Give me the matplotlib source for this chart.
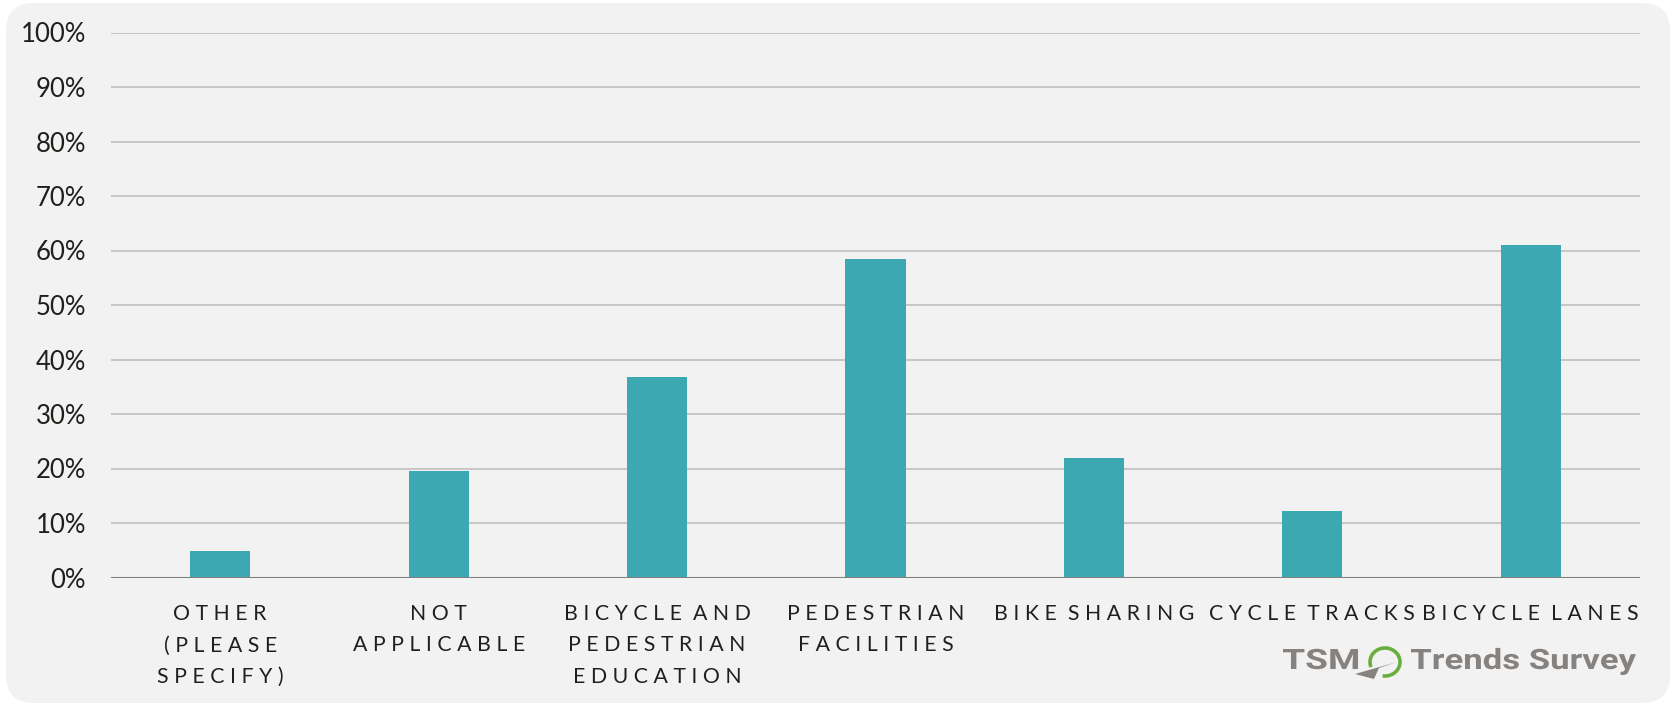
import matplotlib.pyplot as plt
from matplotlib.patches import FancyBboxPatch, Arc, Polygon, PathPatch
from matplotlib.textpath import TextPath
from matplotlib.font_manager import FontProperties
from matplotlib.transforms import Affine2D
from matplotlib.ticker import PercentFormatter

categories = ["OTHER\n(PLEASE\nSPECIFY)", "NOT\nAPPLICABLE", "BICYCLE AND\nPEDESTRIAN\nEDUCATION",
              "PEDESTRIAN\nFACILITIES", "BIKE SHARING", "CYCLE TRACKS", "BICYCLE LANES"]
shares = [4.9, 19.5, 36.7, 58.4, 21.9, 12.2, 61.0]
y_ticks = [0, 10, 20, 30, 40, 50, 60, 70, 80, 90, 100]

BAR_COLOR = "#3ca8b2"
TEXT_COLOR = "#1f1f1c"
LOGO_GRAY = "#86827f"
LOGO_GREEN = "#6aaf3d"

W, H = 1677, 706


# fake letter spacing: spaces between letters, a wider gap between words
def spaced(label):
    out = []
    for line in label.split("\n"):
        out.append("  ".join(" ".join(word) for word in line.split(" ")))
    return "\n".join(out)


# bold text squeezed into a given pixel box (x0..x1, baseline, cap height)
def logo_text(axis, s, x0, x1, baseline, cap):
    fp = FontProperties(family="Roboto", weight="bold")
    ref = TextPath((0, 0), "T", size=100, prop=fp).get_extents()
    size = 100 * cap / ref.height
    path = TextPath((0, 0), s, size=size, prop=fp)
    ext = path.get_extents()
    sx = (x1 - x0) / ext.width
    tr = Affine2D().translate(-ext.x0, 0).scale(sx, -1).translate(x0, baseline)
    axis.add_patch(PathPatch(tr.transform_path(path), facecolor=LOGO_GRAY, edgecolor="none"))


fig = plt.figure(figsize=(W / 100, H / 100), dpi=100)
fig.patch.set_facecolor("white")

# pixel-space layer for the panel background and the logo
bg = fig.add_axes([0, 0, 1, 1], zorder=0)
bg.set_xlim(0, W)
bg.set_ylim(H, 0)
bg.axis("off")
bg.add_patch(FancyBboxPatch((6, 3), 1664, 700, boxstyle="round,pad=0,rounding_size=28",
                            facecolor="#f2f2f2", edgecolor="none"))

ax = fig.add_axes([111 / W, 1 - 577.5 / H, (1640 - 111) / W, 545 / H], zorder=1)
ax.patch.set_alpha(0)

x = range(len(categories))
ax.bar(x, shares, width=0.275, color=BAR_COLOR, zorder=3)

ax.set_xlim(-0.5, len(categories) - 0.5)
ax.set_ylim(0, 100)
ax.set_yticks(y_ticks)
ax.yaxis.set_major_formatter(PercentFormatter(decimals=0))
ax.grid(axis="y", color="#bfbfbf", linewidth=1.2, zorder=0)
ax.axhline(0, color="#7f7f7f", linewidth=1.5, zorder=4)

for side in ["top", "right", "left", "bottom"]:
    ax.spines[side].set_visible(False)

ax.set_xticks(list(x))
ax.set_xticklabels([spaced(c) for c in categories], fontsize=15.3, family="Lato",
                   color=TEXT_COLOR, linespacing=1.72, va="top")
ax.tick_params(axis="x", length=0, pad=19)
ax.tick_params(axis="y", length=0, pad=18, labelsize=18.5, labelcolor=TEXT_COLOR)
for lbl in ax.get_yticklabels():
    lbl.set_family("Lato")

# logo: TSM + green ring with swoosh + Trends Survey
logo_text(bg, "TSM", 1283, 1358, 669, 20)
logo_text(bg, "Trends Survey", 1411, 1636, 669, 20)
bg.add_patch(Arc((1385, 662), 30, 28, theta1=-200, theta2=100, color=LOGO_GREEN, linewidth=2.6))
bg.add_patch(Polygon([[1355, 674], [1397, 662], [1379, 668], [1374, 679]], closed=True,
                     facecolor=LOGO_GRAY, edgecolor="none"))

fig.savefig("out.png", dpi=100, facecolor=fig.get_facecolor())
